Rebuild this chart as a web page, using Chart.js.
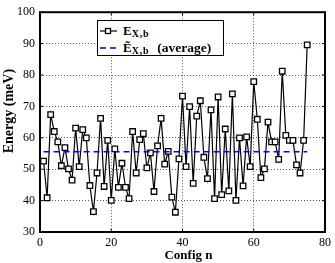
<!DOCTYPE html>
<html>
<head>
<meta charset="utf-8">
<script src="https://cdn.jsdelivr.net/npm/chart.js@4"></script>
<style>
  html, body { margin: 0; padding: 0; background: #fff; }
  #wrap { position: relative; width: 335px; height: 263px; }
  #legend {
    position: absolute; left: 97px; top: 20px; width: 127px; height: 36px;
    border: 1.5px solid #000; background: #fff; box-sizing: border-box;
    font-family: "Liberation Serif", serif; font-weight: bold; font-size: 13px; color: #000;
  }
  .row { position: absolute; left: 0; width: 100%; height: 16px; line-height: 16px; white-space: nowrap; }
  .row .txt { position: absolute; left: 25px; top: 0; }
  .row sub { font-size: 10px; letter-spacing: 0.8px; vertical-align: -2px; }
  .row .avg { margin-left: 8px; font-size: 13.5px; }
  .swatch { position: absolute; left: 2px; top: 0; width: 17px; height: 16px; }
</style>
</head>
<body>
<div id="wrap">
  <canvas id="c" width="335" height="263"></canvas>
  <div id="legend">
    <div class="row" style="top:2px">
      <svg class="swatch" viewBox="0 0 17 16"><line x1="0" y1="8" x2="17" y2="8" stroke="#000" stroke-width="1.2"/><rect x="5.5" y="5.5" width="5" height="5" fill="#fff" stroke="#000" stroke-width="1.3"/></svg>
      <span class="txt">E<sub>X,b</sub></span>
    </div>
    <div class="row" style="top:19px">
      <svg class="swatch" viewBox="0 0 17 16"><line x1="0" y1="8" x2="17" y2="8" stroke="#0000ff" stroke-width="1.5" stroke-dasharray="6,4"/></svg>
      <span class="txt">Ẽ<sub>X,b</sub><span class="avg">(average)</span></span>
    </div>
  </div>
</div>
<script>
const energy = [
  52.6, 40.9, 67.4, 62.0, 58.7, 51.1, 56.9, 50.1, 46.5, 63.1,
  50.8, 62.6, 60.0, 44.8, 36.5, 48.8, 66.2, 44.5, 59.2, 40.1,
  56.5, 44.2, 51.9, 44.2, 40.6, 62.0, 48.8, 59.4, 61.3, 50.4,
  55.2, 42.9, 57.4, 66.2, 51.6, 55.7, 41.1, 36.3, 53.3, 73.3,
  50.8, 69.9, 45.5, 66.9, 71.8, 53.8, 47.0, 68.9, 40.6, 73.0,
  41.9, 62.8, 43.1, 74.0, 40.1, 60.0, 44.7, 60.3, 50.8, 77.9,
  65.9, 47.3, 50.1, 65.0, 58.7, 58.7, 53.1, 81.2, 60.8, 59.2,
  59.2, 51.4, 48.8, 59.2, 89.6
];
const configs = energy.map((v, i) => i + 1);
const averageEnergy = 55.56;
const xTicks = [0, 20, 40, 60, 80];
const yTicks = [30, 40, 50, 60, 70, 80, 90, 100];
const xTitle = "Config n";
const yTitle = "Energy (meV)";

const FONT = '"Liberation Serif", serif';

const framePlugin = {
  id: 'frame',
  afterDraw(chart) {
    const { ctx, chartArea: a, scales } = chart;
    ctx.save();
    ctx.strokeStyle = '#000';
    ctx.lineWidth = 1;
    ctx.setLineDash([]);
    const tl = 3;
    xTicks.forEach(v => {
      const x = scales.x.getPixelForValue(v);
      ctx.beginPath();
      ctx.moveTo(x, a.bottom); ctx.lineTo(x, a.bottom - tl);
      ctx.moveTo(x, a.top); ctx.lineTo(x, a.top + tl);
      ctx.stroke();
    });
    yTicks.forEach(v => {
      const y = scales.y.getPixelForValue(v);
      ctx.beginPath();
      ctx.moveTo(a.left, y); ctx.lineTo(a.left + tl, y);
      ctx.moveTo(a.right, y); ctx.lineTo(a.right - tl, y);
      ctx.stroke();
    });
    ctx.lineWidth = 2;
    ctx.strokeRect(a.left, a.top, a.right - a.left, a.bottom - a.top);
    ctx.fillStyle = '#000';
    ctx.textAlign = 'center';
    ctx.textBaseline = 'middle';
    ctx.font = 'bold 13px ' + FONT;
    ctx.fillText(xTitle, (a.left + a.right) / 2 + 6, 256);
    ctx.font = 'bold 14px ' + FONT;
    ctx.translate(9, (a.top + a.bottom) / 2 - 11);
    ctx.rotate(-Math.PI / 2);
    ctx.fillText(yTitle, 0, 0);
    ctx.restore();
  }
};

new Chart(document.getElementById('c'), {
  type: 'line',
  data: {
    datasets: [
      {
        label: 'E_X,b',
        data: energy.map((v, i) => ({ x: configs[i], y: v })),
        borderColor: '#000',
        borderWidth: 1.2,
        pointStyle: 'rect',
        pointRadius: 3.9,
        pointBackgroundColor: '#fff',
        pointBorderColor: '#000',
        pointBorderWidth: 1.3,
        tension: 0,
        order: 1
      },
      {
        label: 'average',
        data: [{ x: configs[0], y: averageEnergy }, { x: configs[configs.length - 1], y: averageEnergy }],
        borderColor: '#0000ff',
        borderWidth: 1.5,
        borderDash: [6, 4],
        pointRadius: 0,
        tension: 0,
        order: 0
      }
    ]
  },
  options: {
    responsive: false,
    animation: false,
    devicePixelRatio: 1,
    layout: { padding: { top: 5, right: 7, left: 0, bottom: 0 } },
    plugins: { legend: { display: false }, tooltip: { enabled: false } },
    scales: {
      x: {
        type: 'linear', min: 0, max: 80,
        afterBuildTicks(s) { s.ticks = xTicks.map(v => ({ value: v })); },
        afterFit(s) { s.height = 31; },
        ticks: { color: '#000', font: { family: FONT, size: 12 }, padding: 4, maxRotation: 0 },
        grid: { color: 'rgba(0,0,0,0.65)', lineWidth: 1, drawTicks: false },
        border: { display: false, dash: [1, 2] }
      },
      y: {
        type: 'linear', min: 30, max: 100,
        afterBuildTicks(s) { s.ticks = yTicks.map(v => ({ value: v })); },
        afterFit(s) { s.width = 40; },
        ticks: { color: '#000', font: { family: FONT, size: 12 }, padding: 5 },
        grid: { color: 'rgba(0,0,0,0.65)', lineWidth: 1, drawTicks: false },
        border: { display: false, dash: [1, 2] }
      }
    }
  },
  plugins: [framePlugin]
});
</script>
</body>
</html>
